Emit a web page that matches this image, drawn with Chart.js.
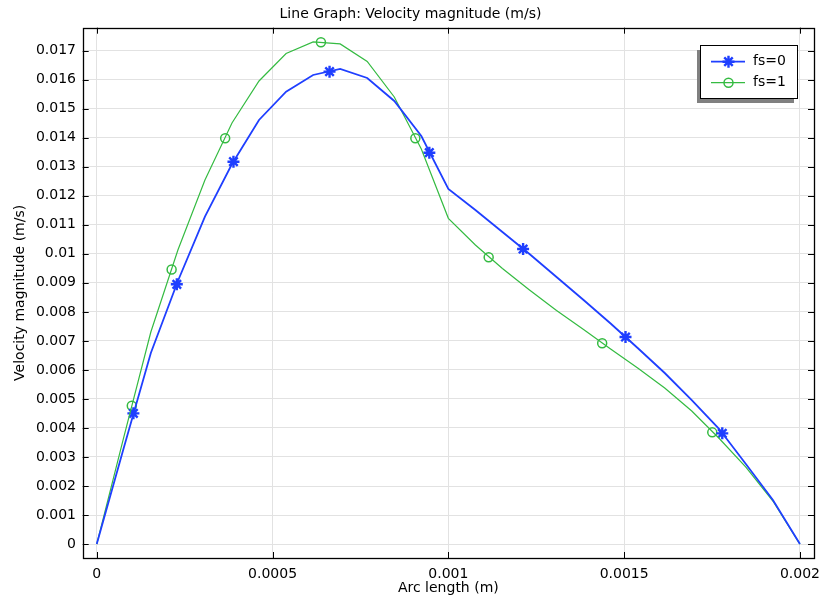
<!DOCTYPE html>
<html><head><meta charset="utf-8">
<script src="https://cdn.jsdelivr.net/npm/chart.js@4.4.1/dist/chart.umd.min.js"></script>
<style>html,body{margin:0;padding:0;background:#fff;overflow:hidden}canvas{display:block}</style>
</head><body><canvas id="c" width="821" height="598" style="width:821px;height:598px"></canvas>
<script>
// ---- data ----
const arcLength = [0, 0.0000769, 0.0001538, 0.0002308, 0.0003077, 0.0003846, 0.0004615, 0.0005385, 0.0006154,
  0.0006923, 0.0007692, 0.0008462, 0.0009231, 0.001, 0.0010769, 0.0011538, 0.0012308, 0.0013077, 0.0013846,
  0.0014615, 0.0015385, 0.0016154, 0.0016923, 0.0017692, 0.0018462, 0.0019231, 0.002];
const velocityFs0 = [0, 0.003322, 0.006582, 0.009063, 0.011279, 0.013094, 0.014611, 0.015586, 0.016161,
  0.016368, 0.016058, 0.015265, 0.014059, 0.012233, 0.011509, 0.010751, 0.009993, 0.009201, 0.008408,
  0.007598, 0.006754, 0.005893, 0.004962, 0.003980, 0.002757, 0.001516, 0];
const velocityFs1 = [0, 0.003687, 0.007305, 0.010131, 0.012543, 0.014507, 0.015955, 0.016902, 0.017298,
  0.017230, 0.016627, 0.015403, 0.013611, 0.011223, 0.010303, 0.009493, 0.008753, 0.008046, 0.007392,
  0.006720, 0.006065, 0.005376, 0.004583, 0.003653, 0.002653, 0.001482, 0];
const markerArcFs0 = [0.0001042, 0.0002277, 0.0003888, 0.0006621, 0.0009459, 0.0012126, 0.0015039, 0.0017791];
const markerVelFs0 = [0.004504, 0.008949, 0.013174, 0.016275, 0.013484, 0.010165, 0.007133, 0.003815];
const markerArcFs1 = [0.0000996, 0.0002129, 0.0003652, 0.0006376, 0.0009061, 0.0011147, 0.0014375, 0.0017506];
const markerVelFs1 = [0.004766, 0.009459, 0.013980, 0.017288, 0.013980, 0.009880, 0.006916, 0.003849];
const seriesNames = ['fs=0', 'fs=1'];
const xTickValues = [0, 0.0005, 0.001, 0.0015, 0.002];
const xTickLabels = ['0', '0.0005', '0.001', '0.0015', '0.002'];
const yTickValues = [0, 0.001, 0.002, 0.003, 0.004, 0.005, 0.006, 0.007, 0.008, 0.009, 0.010, 0.011, 0.012,
  0.013, 0.014, 0.015, 0.016, 0.017];
const yTickLabels = ['0', '0.001', '0.002', '0.003', '0.004', '0.005', '0.006', '0.007', '0.008', '0.009',
  '0.01', '0.011', '0.012', '0.013', '0.014', '0.015', '0.016', '0.017'];

// ---- styles ----
const BLUE = '#1f3fff';
const GREEN = '#35bb42';
const FONT = 'DejaVu Sans';
Chart.defaults.font.family = FONT;
Chart.defaults.color = '#000';

const pts = (xs, ys) => xs.map((x, i) => ({x, y: ys[i]}));

const framePlugin = {
  id: 'frameTicks',
  afterDatasetsDraw(chart) {
    const {ctx, chartArea: a, scales: {x, y}} = chart;
    ctx.save();
    ctx.strokeStyle = '#000';
    ctx.lineWidth = 1;
    ctx.beginPath();
    const L = 6;
    xTickValues.forEach(v => {
      const px = Math.round(x.getPixelForValue(v)) + 0.5;
      ctx.moveTo(px, a.bottom); ctx.lineTo(px, a.bottom - L);
      ctx.moveTo(px, a.top); ctx.lineTo(px, a.top + L);
    });
    yTickValues.forEach(v => {
      const py = Math.round(y.getPixelForValue(v)) + 0.5;
      ctx.moveTo(a.left, py); ctx.lineTo(a.left + L, py);
      ctx.moveTo(a.right, py); ctx.lineTo(a.right - L, py);
    });
    ctx.stroke();
    ctx.lineWidth = 1.3;
    ctx.strokeRect(Math.round(a.left) + 0.5, Math.round(a.top) + 0.5, Math.round(a.right - a.left), Math.round(a.bottom - a.top));
    ctx.restore();
  }
};

const legendPlugin = {
  id: 'boxLegend',
  afterDraw(chart) {
    const ctx = chart.ctx;
    const bx = 700, by = 45, bw = 97, bh = 53;
    ctx.save();
    ctx.fillStyle = '#808080';
    ctx.fillRect(bx - 3, by + 5, bw, bh);
    ctx.fillStyle = '#fff';
    ctx.fillRect(bx, by, bw, bh);
    ctx.strokeStyle = '#000';
    ctx.lineWidth = 1;
    ctx.strokeRect(bx + 0.5, by + 0.5, bw, bh);
    const items = [
      {name: seriesNames[0], color: BLUE, style: 'star', r: 6, bw: 2.4, lw: 1.8},
      {name: seriesNames[1], color: GREEN, style: 'circle', r: 4.5, bw: 1.5, lw: 1.2}
    ];
    items.forEach((it, i) => {
      const yy = 61.7 + i * 21;
      ctx.strokeStyle = it.color;
      ctx.lineWidth = it.lw;
      ctx.beginPath(); ctx.moveTo(711, yy); ctx.lineTo(745, yy); ctx.stroke();
      ctx.fillStyle = 'rgba(0,0,0,0)';
      ctx.lineWidth = it.bw;
      Chart.helpers.drawPoint(ctx, {pointStyle: it.style, radius: it.r, borderWidth: it.bw, rotation: 0}, 728.5, yy);
      ctx.fillStyle = '#000';
      ctx.font = '14px "' + FONT + '"';
      ctx.textBaseline = 'middle';
      ctx.textAlign = 'left';
      ctx.fillText(it.name, 753, yy);
    });
    ctx.restore();
  }
};

new Chart(document.getElementById('c'), {
  type: 'line',
  data: {
    datasets: [
      {label: seriesNames[0], data: pts(arcLength, velocityFs0), borderColor: BLUE, borderWidth: 1.8, pointRadius: 0, tension: 0},
      {label: seriesNames[1], data: pts(arcLength, velocityFs1), borderColor: GREEN, borderWidth: 1.2, pointRadius: 0, tension: 0},
      {label: seriesNames[0] + ' markers', data: pts(markerArcFs0, markerVelFs0), showLine: false, pointStyle: 'star',
        pointRadius: 6, borderColor: BLUE, pointBorderWidth: 2.4, backgroundColor: 'rgba(0,0,0,0)'},
      {label: seriesNames[1] + ' markers', data: pts(markerArcFs1, markerVelFs1), showLine: false, pointStyle: 'circle',
        pointRadius: 4.5, borderColor: GREEN, pointBorderWidth: 1.5, backgroundColor: 'rgba(0,0,0,0)'}
    ]
  },
  options: {
    responsive: false, maintainAspectRatio: false, animation: false, devicePixelRatio: 1,
    layout: {autoPadding: false, padding: {left: 0, right: 0, top: 0, bottom: 0}},
    plugins: {
      legend: {display: false}, tooltip: {enabled: false},
      title: {display: true, text: 'Line Graph: Velocity magnitude (m/s)', font: {size: 14, weight: 'normal'},
        color: '#000', padding: {top: 5.5, bottom: 5.4}}
    },
    scales: {
      x: {
        type: 'linear', min: -0.00004, max: 0.00204,
        afterBuildTicks: s => { s.ticks = xTickValues.map(v => ({value: v})); },
        afterFit: s => { s.height = 40; s.paddingLeft = 0; s.paddingRight = 7; },
        ticks: {autoSkip: false, maxRotation: 0, padding: 7.8, font: {size: 14}, callback: (v, i) => xTickLabels[i]},
        grid: {color: '#e2e2e2', lineWidth: 1, drawTicks: false},
        border: {display: false},
        title: {display: true, text: 'Arc length (m)', font: {size: 14}, padding: {top: 0, bottom: 1.6}}
      },
      y: {
        type: 'linear', min: -0.00048, max: 0.01779,
        afterBuildTicks: s => { s.ticks = yTickValues.map(v => ({value: v})); },
        afterFit: s => { s.width = 82.7; s.paddingTop = 0; s.paddingBottom = 0; },
        ticks: {autoSkip: false, padding: 6.7, font: {size: 14}, callback: (v, i) => yTickLabels[i]},
        grid: {color: '#e2e2e2', lineWidth: 1, drawTicks: false},
        border: {display: false},
        title: {display: true, text: 'Velocity magnitude (m/s)', font: {size: 14}, padding: {top: 12, bottom: 0}}
      }
    }
  },
  plugins: [framePlugin, legendPlugin]
});
</script>
</body></html>
